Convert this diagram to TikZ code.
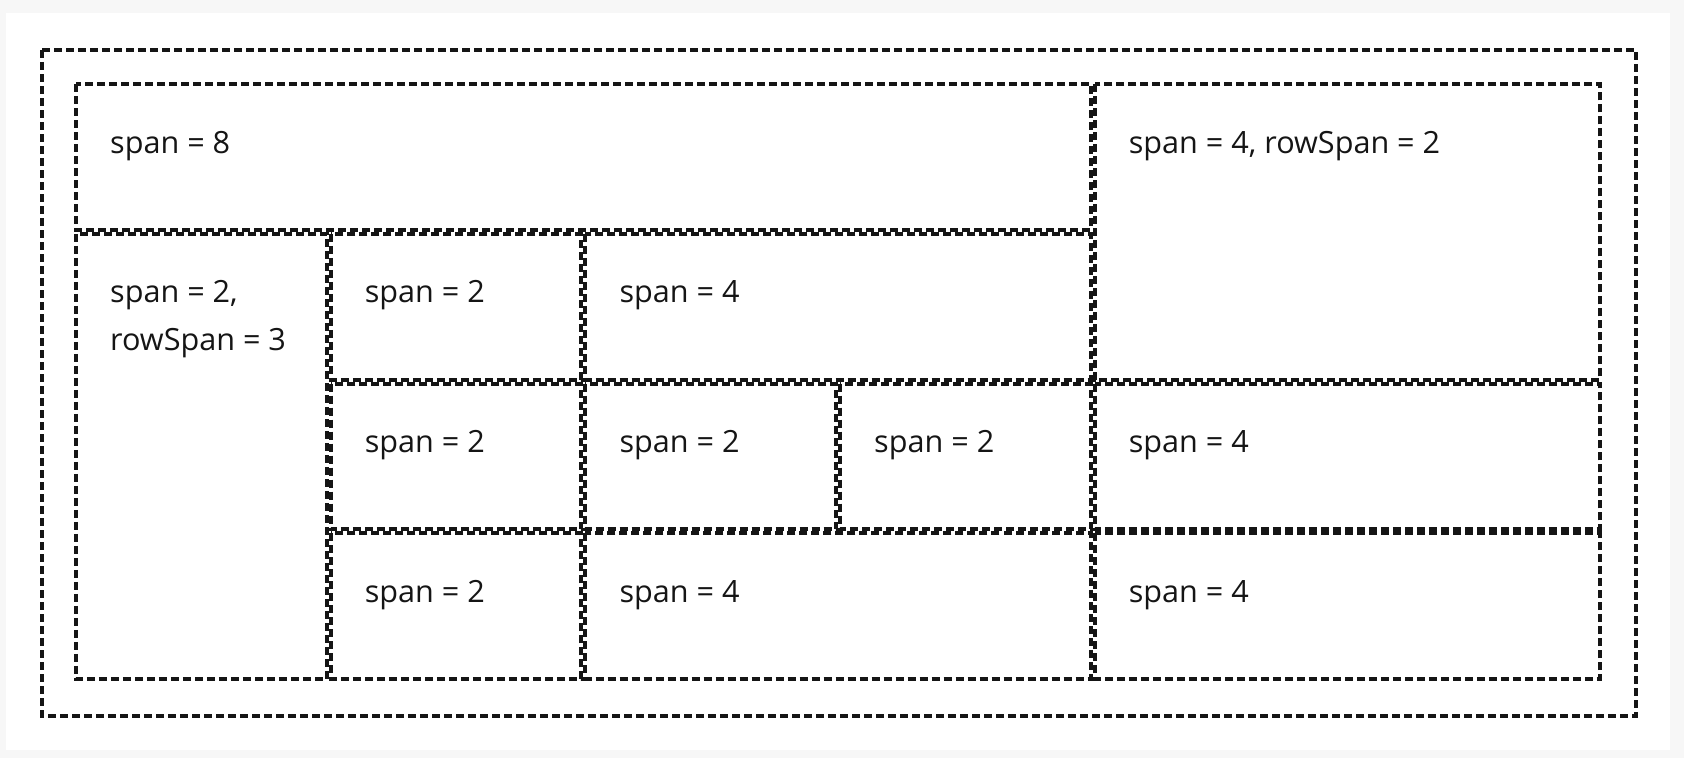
\documentclass[tikz,border=0pt]{standalone}
\usepackage{fontspec}
\setmainfont{Open Sans}
\definecolor{pagebg}{HTML}{F7F7F7}
\definecolor{ink}{HTML}{151515}
% one grid item: [label options], name, column, row, span, rowspan, label
\newcommand{\gridcell}[7][]{%
	\pgfmathsetmacro{\xa}{74+127.333*#3+2}
	\pgfmathsetmacro{\xb}{74+127.333*(#3+#5)-2}
	\pgfmathsetmacro{\ya}{82+149.75*#4+2}
	\pgfmathsetmacro{\yb}{82+149.75*(#4+#6)-2}
	\draw [cellline] (\xa,\ya) rectangle (\xb,\yb);
	\node [celltext, #1] (#2) at (\xa+34,\ya+69) {#7};
}
\begin{document}
\begin{tikzpicture}[x = 1bp, y = -1bp]
	\tikzstyle{cellline} = [ink, line width = 4bp, dash pattern = on 8bp off 4bp]
	\tikzstyle{celltext} = [ink, anchor = base west, inner sep = 0, align = left,
		font = \fontsize{30.6bp}{47.7bp}\selectfont]
	\useasboundingbox (0,0) rectangle (1684,758);
	\fill [pagebg] (0,0) rectangle (1684,758);
	\fill [white] (6,13) rectangle (1670,750);
	
	\draw [cellline] (42,50) rectangle (1636,716); %grid container
	
	\gridcell{top}{0}{0}{8}{1}{span = 8}
	\gridcell{side}{8}{0}{4}{2}{span = 4, rowSpan = 2}
	\gridcell[yshift = -47.7bp]{tall}{0}{1}{2}{3}{span = 2,\\rowSpan = 3}
	\gridcell{ba}{2}{1}{2}{1}{span = 2}
	\gridcell{bb}{4}{1}{4}{1}{span = 4}
	
	\gridcell{ca}{2}{2}{2}{1}{span = 2}
	\gridcell{cb}{4}{2}{2}{1}{span = 2}
	\gridcell{cc}{6}{2}{2}{1}{span = 2}
	\gridcell{cd}{8}{2}{4}{1}{span = 4}
	
	\gridcell{da}{2}{3}{2}{1}{span = 2}
	\gridcell{db}{4}{3}{4}{1}{span = 4}
	\gridcell{dc}{8}{3}{4}{1}{span = 4}
\end{tikzpicture}
\end{document}
